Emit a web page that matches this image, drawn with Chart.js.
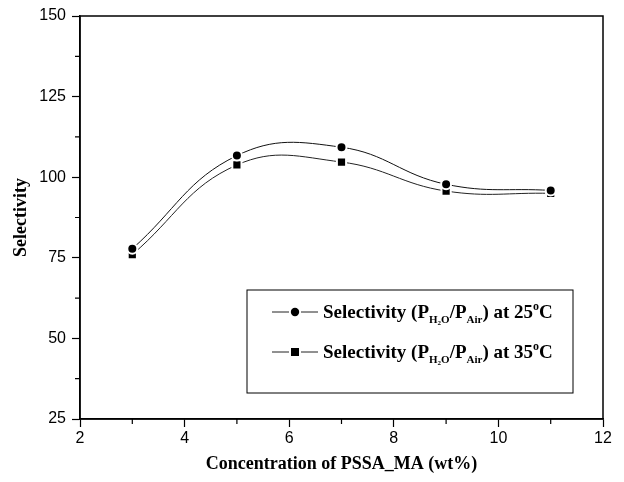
<!DOCTYPE html>
<html>
<head>
<meta charset="utf-8">
<script src="https://cdn.jsdelivr.net/npm/chart.js@4.4.1/dist/chart.umd.min.js"></script>
<style>
  html, body { margin: 0; padding: 0; background: #fff; }
  #wrap { width: 624px; height: 482px; }
</style>
</head>
<body>
<div id="wrap"><canvas id="grafico" width="624" height="482"></canvas></div>
<script>
const concentration = [3, 5, 7, 9, 11];
const sel25 = [77.8, 106.7, 109.3, 97.8, 95.9];
const sel35 = [76, 103.8, 104.7, 95.7, 95.0];

const xTicks = [2, 4, 6, 8, 10, 12];
const yTicks = [25, 50, 75, 100, 125, 150];
const xMinor = [3, 5, 7, 9, 11];
const yMinor = [37.5, 62.5, 87.5, 112.5, 137.5];

const serif = "'Liberation Serif', 'Times New Roman', serif";
const sans = "'Liberation Sans', Arial, sans-serif";

function toPoints(xs, ys) {
    return xs.map((x, i) => ({ x: x, y: ys[i] }));
}

// box round the plot + short minor ticks
const framePlugin = {
    id: "frame",
    beforeDatasetsDraw(chart) {
        const a = chart.chartArea;
        const ctx = chart.ctx;
        ctx.save();
        ctx.strokeStyle = "#000";
        ctx.lineWidth = 1.5;
        ctx.strokeRect(a.left, a.top, a.right - a.left, a.bottom - a.top);

        ctx.lineWidth = 1.2;
        ctx.beginPath();
        xMinor.forEach(v => {
            const px = chart.scales.x.getPixelForValue(v);
            ctx.moveTo(px, a.bottom);
            ctx.lineTo(px, a.bottom + 5);
        });
        yMinor.forEach(v => {
            const py = chart.scales.y.getPixelForValue(v);
            ctx.moveTo(a.left, py);
            ctx.lineTo(a.left - 5, py);
        });
        ctx.stroke();
        ctx.restore();
    }
};

// legend with subscripts, drawn on the canvas
function drawRich(ctx, x, y, parts) {
    parts.forEach(p => {
        ctx.font = "bold " + p.size + "px " + serif;
        ctx.fillText(p.t, x, y + (p.dy || 0));
        x += ctx.measureText(p.t).width;
    });
}

function legendParts(temp) {
    return [
        { t: "Selectivity (P", size: 19 },
        { t: "H", size: 11, dy: 5 },
        { t: "2", size: 7, dy: 7 },
        { t: "O", size: 11, dy: 5 },
        { t: "/P", size: 19 },
        { t: "Air", size: 11, dy: 5 },
        { t: ") at " + temp, size: 19 },
        { t: "o", size: 12, dy: -8 },
        { t: "C", size: 19 }
    ];
}

const legendPlugin = {
    id: "leyenda",
    afterDraw(chart) {
        const ctx = chart.ctx;
        const box = { l: 247, t: 290, r: 573, b: 393 };
        ctx.save();
        ctx.strokeStyle = "#000";
        ctx.lineWidth = 1;
        ctx.strokeRect(box.l, box.t, box.r - box.l, box.b - box.t);

        const rows = [
            { y: 312, style: "circle", temp: "25" },
            { y: 352, style: "rect", temp: "35" }
        ];
        rows.forEach(row => {
            ctx.strokeStyle = "#222";
            ctx.lineWidth = 1;
            ctx.beginPath();
            ctx.moveTo(272, row.y);
            ctx.lineTo(289, row.y);
            ctx.moveTo(301, row.y);
            ctx.lineTo(318, row.y);
            ctx.stroke();
            ctx.fillStyle = "#000";
            if (row.style === "circle") {
                ctx.beginPath();
                ctx.arc(295, row.y, 4.2, 0, Math.PI * 2);
                ctx.fill();
            } else {
                ctx.fillRect(291, row.y - 4, 8, 8);
            }
            ctx.textBaseline = "alphabetic";
            drawRich(ctx, 323, row.y + 6, legendParts(row.temp));
        });
        ctx.restore();
    }
};

const ctx = document.getElementById("grafico").getContext("2d");

new Chart(ctx, {
    type: "line",
    data: {
        datasets: [
            {
                label: "Selectivity at 25oC",
                data: toPoints(concentration, sel25),
                borderColor: "#111",
                borderWidth: 1,
                tension: 0.42,
                pointStyle: "circle",
                pointRadius: 5,
                pointBackgroundColor: "#000",
                pointBorderColor: "#fff",
                pointBorderWidth: 2
            },
            {
                label: "Selectivity at 35oC",
                data: toPoints(concentration, sel35),
                borderColor: "#222",
                borderWidth: 1,
                tension: 0.42,
                pointStyle: "rect",
                pointRadius: 6.5,
                pointBackgroundColor: "#000",
                pointBorderColor: "#fff",
                pointBorderWidth: 2
            }
        ]
    },
    options: {
        responsive: false,
        animation: false,
        layout: { padding: { top: 16, right: 21, left: 0, bottom: 0 } },
        plugins: {
            legend: { display: false },
            tooltip: { enabled: false }
        },
        scales: {
            x: {
                type: "linear",
                min: 2,
                max: 12,
                afterBuildTicks: scale => { scale.ticks = xTicks.map(v => ({ value: v })); },
                afterFit: scale => { scale.height = 63; },
                border: { color: "#000", width: 1.5 },
                grid: { drawOnChartArea: false, tickLength: 8, tickColor: "#000", tickWidth: 1.2 },
                ticks: { color: "#000", font: { family: sans, size: 16 }, padding: 2, maxRotation: 0 },
                title: {
                    display: true,
                    text: "Concentration of PSSA_MA (wt%)",
                    color: "#000",
                    font: { family: serif, size: 18, weight: "bold" },
                    padding: { top: 0, bottom: 7 }
                }
            },
            y: {
                min: 25,
                max: 150,
                afterBuildTicks: scale => { scale.ticks = yTicks.map(v => ({ value: v })); },
                afterFit: scale => { scale.width = 80; },
                border: { color: "#000", width: 1.5 },
                grid: { drawOnChartArea: false, tickLength: 8, tickColor: "#000", tickWidth: 1.2 },
                ticks: { color: "#000", font: { family: sans, size: 16 }, padding: 6 },
                title: {
                    display: true,
                    text: "Selectivity",
                    color: "#000",
                    font: { family: serif, size: 18, weight: "bold" },
                    padding: { top: 11, bottom: 0 }
                }
            }
        }
    },
    plugins: [framePlugin, legendPlugin]
});
</script>
</body>
</html>
